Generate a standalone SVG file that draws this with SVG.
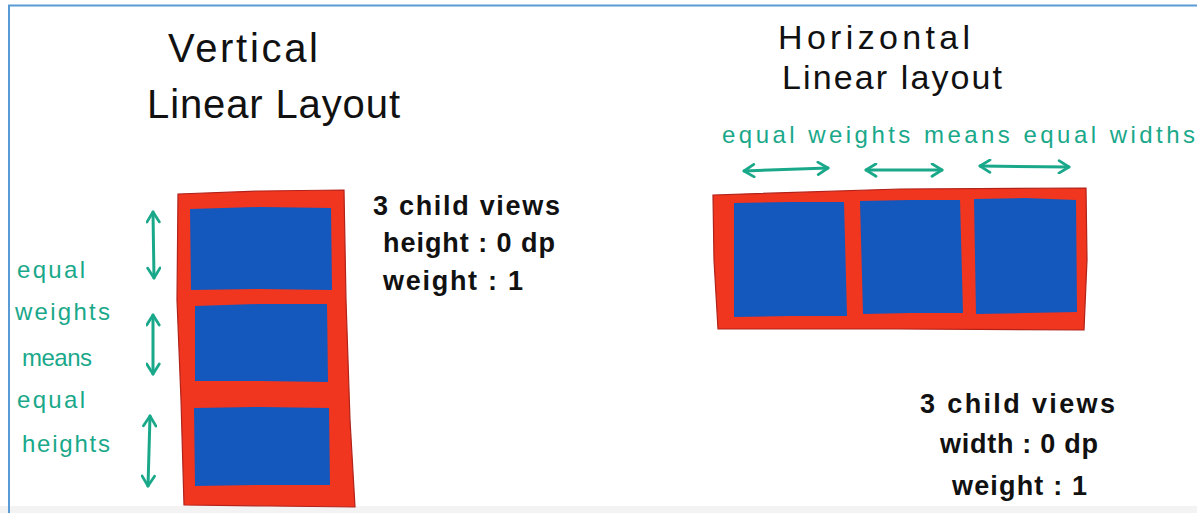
<svg xmlns="http://www.w3.org/2000/svg" width="1197" height="513" viewBox="0 0 1197 513">
<defs>
<style>
.title{font-family:"Liberation Sans",Arial,sans-serif;font-size:40px;fill:#111}
.title2{font-family:"Liberation Sans",Arial,sans-serif;font-size:34px;fill:#111}
.note{font-family:"Liberation Sans",Arial,sans-serif;font-size:27px;font-weight:bold;fill:#111}
.teal{font-family:"Liberation Sans",Arial,sans-serif;font-size:24px;fill:#1aa88a}
.frame{fill:#f0361f;stroke:#b0221a;stroke-width:1.2}
.child{fill:#1457bd}
.arr{stroke:#1aa88a;stroke-width:3;fill:none;stroke-linecap:round;marker-start:url(#ah);marker-end:url(#ah)}
</style>
<marker id="ah" viewBox="0 0 12 12" refX="10" refY="6" markerWidth="5" markerHeight="5" orient="auto-start-reverse" markerUnits="strokeWidth">
<path d="M2,1 L10,6 L2,11" fill="none" stroke="#1aa88a" stroke-width="2.2" stroke-linecap="round" stroke-linejoin="round"/>
</marker>
</defs>
<rect x="0" y="0" width="1197" height="513" fill="#ffffff"/>
<rect x="0" y="506" width="1197" height="7" fill="#f3f3f3"/>
<path d="M9,513 L9,5.5 L1197,5.5" fill="none" stroke="#5b9bd5" stroke-width="2"/>

<g id="vertical-title">
<text class="title" x="168" y="62" textLength="150">Vertical</text>
<text class="title" x="147" y="118" textLength="253">Linear Layout</text>
</g>

<g id="vertical-layout">
<polygon class="frame" points="178,194 260,191 344,190 346,300 350,420 355,507 270,506 184,505 181,400 177,300"/>
<polygon class="child" points="190,209 260,207 331,208 332,290 260,289 191,290"/>
<polygon class="child" points="195,306 260,304 327,304 328,382 260,381 195,381"/>
<polygon class="child" points="194,408 260,407 329,408 330,485 260,485 195,486"/>
</g>

<g id="vertical-labels">
<text class="teal" x="17" y="278" textLength="68">equal</text>
<text class="teal" x="15" y="320" textLength="95">weights</text>
<text class="teal" x="22" y="366" textLength="70">means</text>
<text class="teal" x="17" y="408" textLength="68">equal</text>
<text class="teal" x="22" y="452" textLength="88">heights</text>
</g>

<g id="vertical-notes">
<text class="note" x="373" y="215" textLength="187">3 child views</text>
<text class="note" x="383" y="252" textLength="172">height : 0 dp</text>
<text class="note" x="383" y="290" textLength="140">weight : 1</text>
</g>

<g id="horizontal-title">
<text class="title2" x="778" y="49" textLength="192">Horizontal</text>
<text class="title2" x="782" y="89" textLength="220">Linear layout</text>
</g>

<g id="horizontal-label">
<text class="teal" x="722" y="143" textLength="473">equal weights means equal widths</text>
</g>

<g id="horizontal-layout">
<polygon class="frame" points="713,195 900,189 1086,188 1087,260 1084,330 900,329 718,329 714,260"/>
<polygon class="child" points="734,203 790,202 844,202 847,316 790,316 734,317"/>
<polygon class="child" points="860,201 910,200 960,200 963,313 910,313 863,314"/>
<polygon class="child" points="974,199 1025,198 1076,200 1077,312 1025,313 976,314"/>
</g>

<g id="horizontal-notes">
<text class="note" x="920" y="413" textLength="195">3 child views</text>
<text class="note" x="940" y="453" textLength="158">width : 0 dp</text>
<text class="note" x="952" y="495" textLength="135">weight : 1</text>
</g>

<g id="connectors">
<line class="arr" x1="153" y1="212" x2="154" y2="278"/>
<line class="arr" x1="153" y1="315" x2="153" y2="374"/>
<line class="arr" x1="150" y1="416" x2="148" y2="486"/>
<line class="arr" x1="744" y1="171" x2="828" y2="168"/>
<line class="arr" x1="866" y1="170" x2="942" y2="170"/>
<line class="arr" x1="980" y1="166" x2="1069" y2="167"/>
</g>
</svg>
